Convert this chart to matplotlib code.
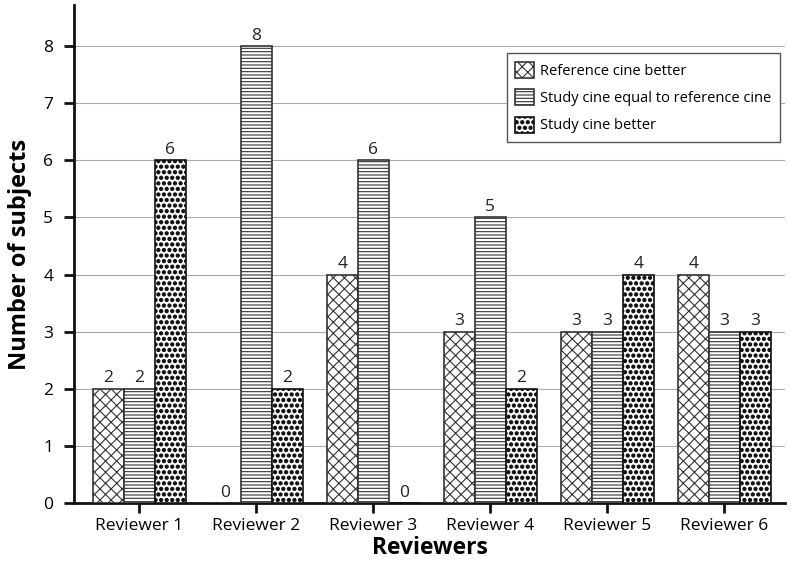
import matplotlib
matplotlib.use("Agg")
import matplotlib.pyplot as plt
import matplotlib.hatch
import numpy as np

# bigger filled dots for the "." hatch, closer to the printed stipple
matplotlib.hatch.SmallFilledCircles.size = 0.28

plt.rcParams.update({"font.family": ["Open Sans", "DejaVu Sans"], "font.size": 12,
                     "hatch.linewidth": 0.8})

reviewers = ["Reviewer 1", "Reviewer 2", "Reviewer 3", "Reviewer 4", "Reviewer 5", "Reviewer 6"]
ref_better = [2, 0, 4, 3, 3, 4]
equal = [2, 8, 6, 5, 3, 3]
study_better = [6, 2, 0, 2, 4, 3]
series_names = ["Reference cine better", "Study cine equal to reference cine", "Study cine better"]

fig = plt.figure(figsize=(7.93, 5.67), dpi=100)
ax = fig.add_axes([0.0933, 0.113, 0.897, 0.878])

x = np.arange(len(reviewers))
w = 0.265
hatches = ["xxx", "-----", "..."]
edges = ["#333333", "#333333", "#111111"]
for i, (vals, name, h, ec) in enumerate(zip([ref_better, equal, study_better], series_names, hatches, edges)):
    bars = ax.bar(x + (i - 1) * w, vals, w, color="white", edgecolor=ec,
                  linewidth=1.2, hatch=h, label=name, zorder=3)
    for b, v in zip(bars, vals):
        ax.text(b.get_x() + b.get_width() / 2, v + 0.04, str(v), ha="center", va="bottom",
                fontsize=12.5, color="#222222")

ax.set_xlim(-0.556, 5.52)
ax.set_ylim(0, 8.72)
ax.set_yticks(range(0, 9))
ax.set_xticks(x)
ax.set_xticklabels(reviewers)
ax.yaxis.grid(True, color="#aaaaaa", linewidth=0.8, zorder=0)
ax.set_axisbelow(True)
for s in ["top", "right"]:
    ax.spines[s].set_visible(False)
for s in ["left", "bottom"]:
    ax.spines[s].set_linewidth(2)
    ax.spines[s].set_color("#111111")
ax.tick_params(axis="both", width=2, length=7, color="#111111", labelsize=12.5)
ax.tick_params(axis="y", pad=8)
ax.set_xlabel("Reviewers", fontsize=16.5, fontweight="bold", labelpad=2)
ax.set_ylabel("Number of subjects", fontsize=17, fontweight="bold", labelpad=8)

leg = ax.legend(loc="upper right", bbox_to_anchor=(1.003, 0.918), fontsize=10.5,
                frameon=True, fancybox=False, edgecolor="#555555", framealpha=1,
                handlelength=1.3, handleheight=1.3, handletextpad=0.4, borderpad=0.6,
                labelspacing=0.72)
leg.get_frame().set_linewidth(1.0)

fig.savefig("out.png", dpi=100)
